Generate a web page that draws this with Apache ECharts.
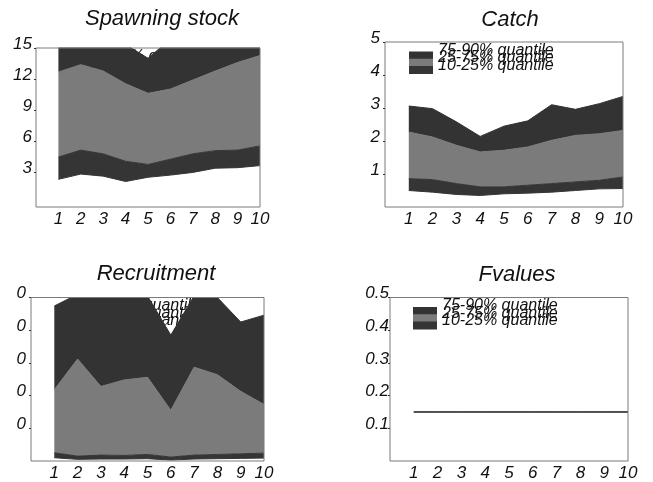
<!DOCTYPE html>
<html>
<head>
<meta charset="utf-8">
<script src="https://cdn.jsdelivr.net/npm/echarts@6/dist/echarts.min.js"></script>
<style>
html,body{margin:0;padding:0;background:#fff;}
#chart{width:653px;height:482px;}
</style>
</head>
<body>
<div id="chart"></div>
<script>
// ---------------- data ----------------
// x categories: an empty slot at 0, then years 1..10
const xCategories = ['', '1', '2', '3', '4', '5', '6', '7', '8', '9', '10'];
const legendNames = ['75-90% quantile', '25-75% quantile', '10-25% quantile'];
const panelTitles = ['Spawning stock', 'Catch', 'Recruitment', 'Fvalues'];

// Spawning stock quantiles (years 1..10)
const ssQ10 = [2.28, 2.79, 2.59, 2.07, 2.48, 2.69, 2.95, 3.36, 3.41, 3.61];
const ssQ25 = [4.44, 5.11, 4.75, 4.03, 3.72, 4.23, 4.75, 5.06, 5.11, 5.52];
const ssQ75 = [12.67, 13.39, 12.77, 11.54, 10.61, 11.02, 11.9, 12.77, 13.6, 14.27];
const ssQ90 = [16.5, 16.5, 16.0, 15.34, 14.01, 15.86, 16.3, 16.8, 17.0, 17.5];
// Catch quantiles
const cQ10 = [0.5, 0.45, 0.38, 0.35, 0.4, 0.42, 0.45, 0.5, 0.55, 0.56];
const cQ25 = [0.86, 0.83, 0.71, 0.61, 0.61, 0.66, 0.71, 0.76, 0.81, 0.91];
const cQ75 = [2.27, 2.12, 1.87, 1.67, 1.72, 1.82, 2.02, 2.17, 2.22, 2.32];
const cQ90 = [3.06, 2.98, 2.58, 2.14, 2.45, 2.61, 3.10, 2.96, 3.13, 3.35];
// Recruitment quantiles
const rQ10 = [0.010, 0.005, 0.006, 0.006, 0.007, 0.003, 0.006, 0.007, 0.008, 0.009];
const rQ25 = [0.025, 0.015, 0.018, 0.017, 0.020, 0.012, 0.018, 0.020, 0.022, 0.024];
const rQ75 = [0.218, 0.312, 0.228, 0.248, 0.256, 0.155, 0.287, 0.264, 0.213, 0.173];
const rQ90 = [0.474, 0.51, 0.52, 0.52, 0.505, 0.385, 0.505, 0.50, 0.425, 0.446];
// F values quantiles
const fQ10 = [0.15, 0.15, 0.15, 0.15, 0.15, 0.15, 0.15, 0.15, 0.15, 0.15];
const fQ25 = [0.15, 0.15, 0.15, 0.15, 0.15, 0.15, 0.15, 0.15, 0.15, 0.15];
const fQ75 = [0.15, 0.15, 0.15, 0.15, 0.15, 0.15, 0.15, 0.15, 0.15, 0.15];
const fQ90 = [0.15, 0.15, 0.15, 0.15, 0.15, 0.15, 0.15, 0.15, 0.15, 0.15];

// y axes: range and tick values
const yMin = [-0.4, 0, 0, 0];
const yMax = [15, 5, 0.5, 0.5];
const yTicks = [
  [3, 6, 9, 12, 15],
  [1, 2, 3, 4, 5],
  [0.1, 0.2, 0.3, 0.4, 0.5],
  [0.1, 0.2, 0.3, 0.4, 0.5]
];
const yTickLabels = [
  ['3', '6', '9', '12', '15'],
  ['1', '2', '3', '4', '5'],
  ['0', '0', '0', '0', '0'],
  ['0.1', '0.2', '0.3', '0.4', '0.5']
];

// ---------------- layout / style ----------------
const FONT = '"Liberation Sans", Arial, Helvetica, sans-serif';
const DARK_LOW = '#353535', MID = '#7b7b7b', DARK_HIGH = '#333333';
const grids = [
  {left: 36, top: 48, width: 224, height: 159},
  {left: 385, top: 42, width: 238, height: 165},
  {left: 31, top: 297.5, width: 233, height: 165.5},
  {left: 390, top: 297.5, width: 238, height: 166.5}
];
const titlePos = [[162, 18.5], [510, 20], [156, 273.5], [517, 275]];
const legendPos = [[60, 47.5], [409, 41.5], [55, 297], [413, 297]];
const yLabelMargin = [4, 5, 5, 1];

const panels = [
  [ssQ10, ssQ25, ssQ75, ssQ90],
  [cQ10, cQ25, cQ75, cQ90],
  [rQ10, rQ25, rQ75, rQ90],
  [fQ10, fQ25, fQ75, fQ90]
];

const withGap = arr => [null].concat(arr);
const diff = (a, b) => [null].concat(a.map((v, i) => v - b[i]));

const series = [];
panels.forEach((q, p) => {
  const common = {
    type: 'line', xAxisIndex: p, yAxisIndex: p, stack: 'band' + p,
    showSymbol: false, symbol: 'none', silent: true, clip: true, z: 3,
    animation: false, connectNulls: false
  };
  series.push(Object.assign({}, common, {
    name: 'lower bound ' + p, data: withGap(q[0]),
    lineStyle: {width: 1, color: DARK_LOW}, itemStyle: {color: DARK_LOW}
  }));
  series.push(Object.assign({}, common, {
    name: legendNames[2], data: diff(q[1], q[0]),
    lineStyle: {width: 1, color: DARK_LOW}, itemStyle: {color: DARK_LOW},
    areaStyle: {color: DARK_LOW, opacity: 1}
  }));
  series.push(Object.assign({}, common, {
    name: legendNames[1], data: diff(q[2], q[1]),
    lineStyle: {width: 1, color: MID}, itemStyle: {color: MID},
    areaStyle: {color: MID, opacity: 1}
  }));
  series.push(Object.assign({}, common, {
    name: legendNames[0], data: diff(q[3], q[2]),
    lineStyle: {width: 1, color: DARK_HIGH}, itemStyle: {color: DARK_HIGH},
    areaStyle: {color: DARK_HIGH, opacity: 1}
  }));
});

const axisLabelBase = {
  fontFamily: FONT, fontStyle: 'italic', fontSize: 17, color: '#111'
};

const option = {
  backgroundColor: '#fff',
  animation: false,
  grid: grids.map(g => Object.assign({show: true, z: 8, borderColor: '#7a7a7a', borderWidth: 1, backgroundColor: 'transparent'}, g)),
  xAxis: grids.map((g, i) => ({
    type: 'category', gridIndex: i, data: xCategories, boundaryGap: false, z: 8,
    axisLine: {show: false}, axisTick: {show: false}, splitLine: {show: false},
    axisLabel: Object.assign({}, axisLabelBase, {margin: 4, interval: 0})
  })),
  yAxis: grids.map((g, i) => ({
    type: 'value', gridIndex: i, min: yMin[i], max: yMax[i], z: 8,
    axisLine: {show: false}, splitLine: {show: false},
    axisTick: {show: true, length: 2, lineStyle: {color: '#333'}, customValues: yTicks[i]},
    axisLabel: Object.assign({}, axisLabelBase, {
      margin: yLabelMargin[i],
      verticalAlign: 'bottom', lineHeight: 8,
      customValues: yTicks[i],
      formatter: v => {
        const k = yTicks[i].findIndex(t => Math.abs(t - v) < 1e-6);
        return k >= 0 ? yTickLabels[i][k] : '';
      }
    })
  })),
  legend: legendPos.map(pos => ({
    left: pos[0], top: pos[1], orient: 'vertical', z: 1,
    padding: 0, itemGap: -10.7, itemWidth: 24, itemHeight: 18,
    selectedMode: false,
    icon: 'path://M0,0L24,0M0,10L24,10L24,18L0,18Z',
    itemStyle: {borderWidth: 0},
    data: legendNames,
    textStyle: {
      fontFamily: FONT, fontStyle: 'italic', fontSize: 16, lineHeight: 15,
      color: '#111'
    }
  })),
  graphic: panelTitles.map((t, i) => ({
    type: 'text', x: titlePos[i][0], y: titlePos[i][1], z: 10,
    style: {
      text: t, fontFamily: FONT, fontStyle: 'italic', fontSize: 22,
      fill: '#111', align: 'center', verticalAlign: 'middle'
    }
  })),
  series: series
};

const chart = echarts.init(document.getElementById('chart'), null, {renderer: 'canvas'});
chart.setOption(option);
</script>
</body>
</html>
